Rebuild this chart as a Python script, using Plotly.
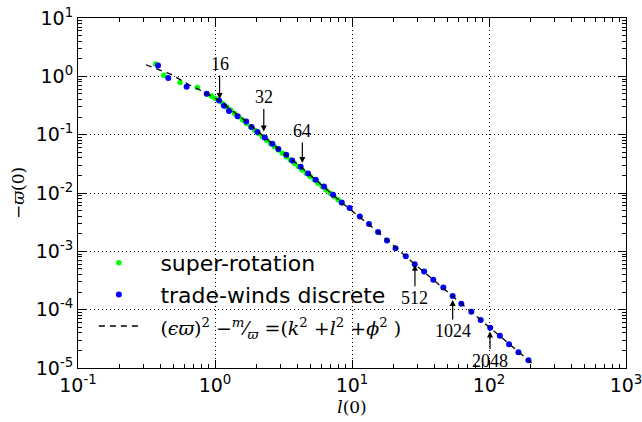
import numpy as np
import plotly.graph_objects as go

# super-rotation (green)
super_x = [0.369, 0.422, 0.556, 0.743, 0.87, 0.94, 1.00, 1.07, 1.14, 1.22, 1.30, 1.39, 1.49,
           1.59, 1.70, 1.82, 1.95, 2.08, 2.22, 2.38, 2.54, 2.72, 2.90, 3.10, 3.32, 3.55,
           3.79, 4.05, 4.33, 4.63, 4.95, 5.30, 5.66, 6.05, 6.47, 6.92, 7.40, 7.91, 8.45]
super_y = [1.63, 1.04, 0.786, 0.645, 0.50, 0.46, 0.42, 0.385, 0.341, 0.298, 0.264, 0.231, 0.202,
           0.178, 0.156, 0.136, 0.119, 0.105, 0.0923, 0.0805, 0.0709, 0.0620, 0.0547, 0.0480,
           0.0420, 0.0368, 0.0324, 0.0284, 0.0249, 0.0219, 0.0192, 0.0168, 0.0147, 0.0129,
           0.0113, 0.00994, 0.00872, 0.00765, 0.00672]

# trade-winds discrete (blue)
trade_x = [0.384, 0.456, 0.621, 0.870, 1.07, 1.163, 1.265, 1.46, 1.69, 1.85, 2.04, 2.31, 2.62,
           2.90, 3.31, 3.66, 4.22, 4.78, 5.44, 6.25, 7.27, 8.41, 9.62, 11.4, 13.3, 15.5, 18.0,
           20.8, 24.7, 28.7, 33.6, 39.2, 46.4, 54.3, 62.8, 74.3, 87.0, 102, 120, 140, 164, 194]
trade_y = [1.54, 0.935, 0.663, 0.503, 0.386, 0.313, 0.254, 0.207, 0.168, 0.135, 0.111, 0.0895,
           0.0698, 0.0566, 0.0452, 0.0361, 0.0281, 0.0216, 0.0168, 0.0129, 0.00931, 0.00687,
           0.00551, 0.00395, 0.00293, 0.00214, 0.00153, 0.00113, 8.27e-4, 6.03e-4, 4.50e-4,
           3.25e-4, 2.39e-4, 1.72e-4, 1.26e-4, 9.17e-5, 6.68e-5, 4.88e-5, 3.56e-5, 2.56e-5,
           1.87e-5, 1.36e-5]

# dispersion relation (dashed)
fit_x = [0.313, 0.475, 0.646, 0.817, 1.07, 1.69, 2.62, 4.22, 8.41, 15.5, 28.7, 54.3, 102, 194, 205]
fit_y = [1.58, 1.09, 0.718, 0.551, 0.386, 0.168, 0.0698, 0.0281, 0.00687, 0.00214, 6.03e-4,
         1.72e-4, 4.88e-5, 1.36e-5, 1.22e-5]

# resolution annotations
ann_labels = ["16", "32", "64", "512", "1024", "2048"]
ann_x = [1.08, 2.27, 4.34, 28.8, 54.3, 101.7]
ann_y = [0.408, 0.1135, 0.0326, 5.86e-4, 1.47e-4, 4.21e-5]
ann_offset = [-35, -34, -32, 33, 31, 29]

x_ticks = [0.1, 1, 10, 100, 1000]
x_ticktext = ["10<sup>-1</sup>", "10<sup>0</sup>", "10<sup>1</sup>", "10<sup>2</sup>", "10<sup>3</sup>"]
y_ticks = [1e-5, 1e-4, 1e-3, 1e-2, 1e-1, 1, 10]
y_ticktext = ["10<sup>-5</sup>", "10<sup>-4</sup>", "10<sup>-3</sup>", "10<sup>-2</sup>",
              "10<sup>-1</sup>", "10<sup>0</sup>", "10<sup>1</sup>"]

OM = "\u03d6"  # varpi, looks like omega with a bar
serif = "DejaVu Serif"
GAP = "\u2002\u2005"

fig = go.Figure()
fig.add_trace(go.Scatter(x=super_x, y=super_y, mode="markers", name=GAP + "super-rotation",
                         legendgroup="a",
                         marker=dict(color="#00ff00", size=5.5, line=dict(width=0))))
fig.add_trace(go.Scatter(x=trade_x, y=trade_y, mode="markers", name=GAP + "trade-winds discrete",
                         legendgroup="b",
                         marker=dict(color="#0000ff", size=6, line=dict(width=0))))
math_name = (GAP + f"<span style=\"font-family:'{serif}';font-size:19px\">(<i>\u03f5{OM}</i>)<sup>2</sup> "
             f"\u2212<sup><i>m</i></sup>\u2044<sub><i>{OM}</i></sub> =(<i>k</i><sup>2</sup> "
             f"+<i>l</i><sup>2</sup> +<i>\u03d5</i><sup>2</sup> )</span>")
fig.add_trace(go.Scatter(x=fit_x, y=fit_y, mode="lines", name=math_name, legendgroup="c",
                         line=dict(color="black", width=1.3, dash="6px,5px")))

for lab, xv, yv, off in zip(ann_labels, ann_x, ann_y, ann_offset):
    fig.add_annotation(x=np.log10(xv), y=np.log10(yv), xref="x", yref="y", text=lab,
                       showarrow=True, ax=0, ay=off, arrowhead=2, arrowsize=1,
                       arrowwidth=1.2, arrowcolor="black", standoff=0,
                       font=dict(family="Liberation Serif", size=18, color="black"))

axis_common = dict(type="log", showline=True, linecolor="black", linewidth=1, mirror="allticks",
                   ticks="inside", ticklen=8, tickcolor="black", tickwidth=1, automargin=False,
                   ticklabeloverflow="allow",
                   showgrid=True, gridcolor="black", gridwidth=1, griddash="1px,3px",
                   zeroline=False, tickfont=dict(family="DejaVu Sans", size=19, color="black"),
                   minor=dict(ticks="inside", ticklen=4, tickcolor="black", dtick="D1",
                              showgrid=False))

fig.update_xaxes(range=[-1.00001, 3.00001], tickvals=x_ticks, ticktext=x_ticktext,
                 title=dict(text="<i>l</i>(0)", font=dict(family=serif, size=17, color="black"),
                            standoff=6),
                 **axis_common)
fig.update_yaxes(range=[-5.00001, 1.00001], tickvals=y_ticks, ticktext=y_ticktext,
                 title=dict(text=f"\u2212<i>{OM}</i>(0)", font=dict(family=serif, size=17, color="black"),
                            standoff=6),
                 **axis_common)

fig.update_layout(width=642, height=422, margin=dict(l=78, r=16, t=18, b=54),
                  paper_bgcolor="white", plot_bgcolor="white",
                  showlegend=True,
                  legend=dict(x=0.029, y=0.36, xanchor="left", yanchor="top",
                              bgcolor="rgba(0,0,0,0)", borderwidth=0,
                              font=dict(family="DejaVu Sans", size=22, color="black"),
                              traceorder="grouped", tracegroupgap=0, itemwidth=40))

fig.write_html("out.html", config={"displayModeBar": False},
               post_script="document.body.style.margin='0';")
